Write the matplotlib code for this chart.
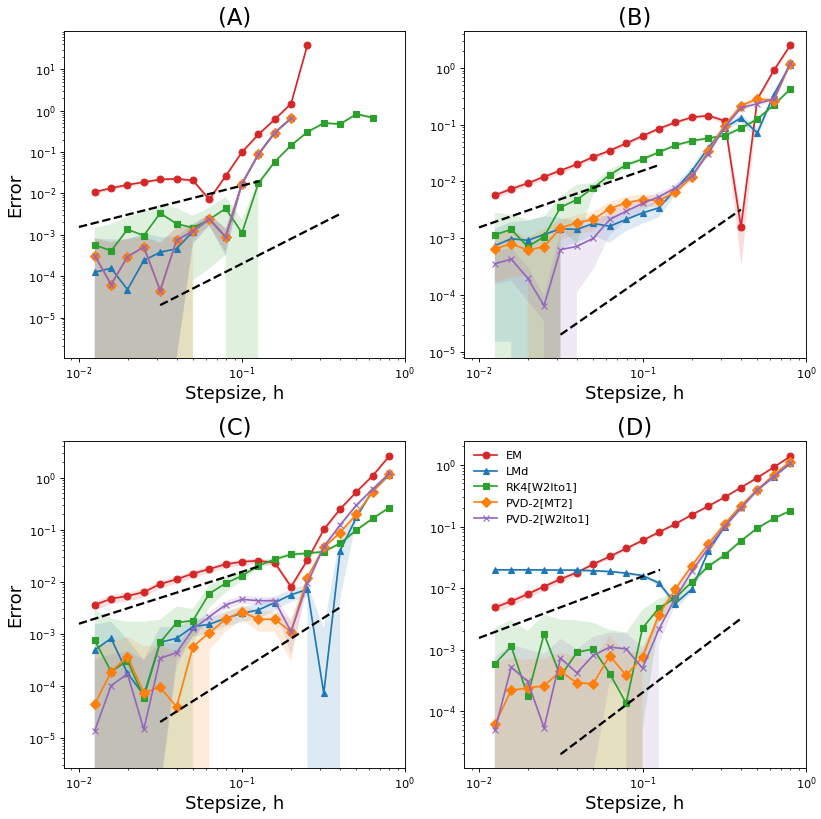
import numpy as np
import matplotlib
matplotlib.use('Agg')
import matplotlib.pyplot as plt

# step sizes h
hs = [0.0125, 0.01575, 0.01984, 0.025, 0.0315, 0.03969, 0.05, 0.063, 0.07937, 0.1,
      0.126, 0.1587, 0.2, 0.252, 0.3175, 0.4, 0.504, 0.635, 0.8]

methods = ['EM', 'LMd', 'RK4[W2Ito1]', 'PVD-2[MT2]', 'PVD-2[W2Ito1]']
colors = ['#d62728', '#1f77b4', '#2ca02c', '#ff7f0e', '#9467bd']
markers = ['o', '^', 's', 'D', 'x']
panel_titles = ['(A)', '(B)', '(C)', '(D)']

# reference slopes (order 1 and order 2)
ref1_h = [0.01, 0.128]
ref1_e = [1.55e-3, 1.98e-2]
ref2_h = [0.0315, 0.4]
ref2_e = [2.0e-5, 3.2e-3]

# ---- panel A ----
em_A = [0.0108, 0.0135, 0.0162, 0.0188, 0.0218, 0.0226, 0.0206, 0.0072, 0.0263, 0.100,
        0.267, 0.616, 1.48, 38.8]
em_A_sd = [0.0012, 0.0014, 0.0015, 0.0016, 0.0018, 0.0018, 0.0018, 0.0010, 0.0025, 0.008,
           0.02, 0.05, 0.12, 3.0]
lmd_A = [1.25e-4, 1.56e-4, 4.75e-5, 2.4e-4, 3.8e-4, 4.6e-4, 1.2e-3, 2.4e-3, 8.8e-4, 0.0171,
         0.088, 0.294, 0.653]
lmd_A_sd = [7e-4, 6.2e-4, 7.3e-4, 8.6e-4, 5e-4, 4.59e-4, 6e-4, 7e-4, 5.8e-4, 0.002,
            0.008, 0.025, 0.05]
rk4_A = [5.73e-4, 4.1e-4, 1.35e-3, 9.6e-4, 3.34e-3, 1.85e-3, 1.48e-3, 2.35e-3, 4.33e-3, 1.12e-3,
         0.0175, 0.058, 0.145, 0.305, 0.503, 0.475, 0.83, 0.677]
rk4_A_sd = [9e-4, 1.4e-3, 1.4e-3, 2.7e-3, 2.1e-3, 2.6e-3, 1.4e-3, 2.2e-3, 4e-3, 1.2e-3,
            3e-3, 5e-3, 0.012, 0.025, 0.04, 0.04, 0.07, 0.06]
mt2_A = [3.16e-4, 6.3e-5, 2.94e-4, 5.1e-4, 4.5e-5, 7.4e-4, 1.23e-3, 2.44e-3, 8.8e-4, 0.0171,
         0.088, 0.294, 0.653]
mt2_A_sd = [5e-4, 6e-4, 5e-4, 4e-4, 6e-4, 8e-4, 3.3e-4, 8e-4, 5e-4, 0.002,
            0.008, 0.025, 0.05]
w2_A = [3.16e-4, 6.3e-5, 2.94e-4, 5.1e-4, 4.5e-5, 7.4e-4, 1.23e-3, 2.44e-3, 8.8e-4, 0.0171,
        0.088, 0.294, 0.653]
w2_A_sd = [5e-4, 6e-4, 5e-4, 4e-4, 6e-4, 7.39e-4, 6e-4, 8e-4, 5e-4, 0.002,
           0.008, 0.025, 0.05]

# ---- panel B ----
em_B = [5.7e-3, 7.4e-3, 9.3e-3, 0.0121, 0.0156, 0.0201, 0.0271, 0.035, 0.047, 0.0635,
        0.0855, 0.110, 0.135, 0.145, 0.117, 1.57e-3, 0.284, 0.91, 2.5]
em_B_sd = [7e-4, 9e-4, 1e-3, 1.3e-3, 1.6e-3, 2e-3, 2.6e-3, 3e-3, 4e-3, 5e-3,
           6e-3, 8e-3, 0.01, 0.01, 0.015, 1.25e-3, 0.03, 0.07, 0.2]
lmd_B = [7.4e-4, 9.8e-4, 9.2e-4, 1.16e-3, 1.47e-3, 1.43e-3, 1.82e-3, 1.63e-3, 2.14e-3, 2.80e-3,
         3.43e-3, 7.2e-3, 0.0152, 0.039, 0.088, 0.132, 0.0717, 0.34, 1.14]
lmd_B_sd = [7.25e-4, 9.65e-4, 1.1e-3, 1.3e-3, 8e-4, 6e-4, 7e-4, 8e-4, 8e-4, 1e-3,
            1.1e-3, 1.5e-3, 3e-3, 6e-3, 0.012, 0.02, 0.015, 0.04, 0.1]
rk4_B = [1.15e-3, 1.43e-3, 7.1e-4, 1.06e-3, 3.5e-3, 4.8e-3, 7.7e-3, 0.0131, 0.0196, 0.0247,
         0.0328, 0.0435, 0.0519, 0.0578, 0.0644, 0.0867, 0.126, 0.223, 0.421]
rk4_B_sd = [1.65e-3, 1.2e-3, 1.4e-3, 1.3e-3, 2e-3, 4e-3, 1.7e-3, 3e-3, 2.5e-3, 2e-3,
            2.5e-3, 3e-3, 4e-3, 4e-3, 5e-3, 7e-3, 0.01, 0.02, 0.03]
mt2_B = [6.5e-4, 8.0e-4, 6.2e-4, 7.1e-4, 1.52e-3, 1.87e-3, 2.14e-3, 3.34e-3, 4.2e-3, 4.8e-3,
         4.6e-3, 6.5e-3, 0.0119, 0.034, 0.0966, 0.217, 0.285, 0.266, 1.19]
mt2_B_sd = [4.8e-4, 6e-4, 4e-4, 7.5e-4, 6e-4, 7e-4, 8e-4, 1e-3, 1.2e-3, 1.2e-3,
            1e-3, 1e-3, 1.5e-3, 4e-3, 0.01, 0.02, 0.025, 0.03, 0.1]
w2_B = [3.54e-4, 4.3e-4, 1.98e-4, 6.5e-5, 6.3e-4, 7.2e-4, 1.0e-3, 2.14e-3, 3.0e-3, 4.1e-3,
        5.4e-3, 7.7e-3, 0.0124, 0.031, 0.09, 0.198, 0.235, 0.284, 1.22]
w2_B_sd = [2e-4, 2.5e-4, 1.2e-4, 3e-5, 7e-4, 6.1e-4, 7.2e-4, 1e-3, 1e-3, 1e-3,
           1e-3, 1e-3, 1.5e-3, 3e-3, 0.01, 0.02, 0.02, 0.03, 0.1]

# ---- panel C ----
em_C = [3.56e-3, 4.7e-3, 5.3e-3, 6.3e-3, 9.0e-3, 0.0111, 0.0143, 0.0175, 0.0216, 0.0242,
        0.0253, 0.0232, 8.0e-3, 0.0261, 0.101, 0.25, 0.538, 1.1, 2.6]
em_C_sd = [7e-4, 9e-4, 1e-3, 1.2e-3, 1.5e-3, 1.8e-3, 2.2e-3, 2.5e-3, 3e-3, 3e-3,
           3e-3, 3e-3, 1.2e-3, 3e-3, 0.01, 0.02, 0.04, 0.08, 0.2]
lmd_C = [4.85e-4, 8.1e-4, 1.73e-4, 6.6e-5, 6.8e-4, 8.1e-4, 1.36e-3, 1.51e-3, 1.97e-3, 2.46e-3,
         2.85e-3, 3.95e-3, 5.6e-3, 7.1e-3, 7.1e-5, 0.0395, 0.173, 0.58, 1.12]
lmd_C_sd = [1e-3, 9e-4, 6e-4, 2.5e-4, 6.79e-4, 5e-4, 5e-4, 5e-4, 6e-4, 8e-4,
            9e-4, 1.2e-3, 1.5e-3, 2e-3, 1.2e-3, 0.035, 0.02, 0.05, 0.1]
rk4_C = [7.4e-4, 1.86e-4, 3.0e-4, 5.9e-5, 6.8e-4, 1.63e-3, 1.78e-3, 5.9e-3, 9.3e-3, 0.013,
         0.0203, 0.0269, 0.0335, 0.0351, 0.0378, 0.0546, 0.0985, 0.165, 0.265]
rk4_C_sd = [2.1e-3, 1.76e-3, 1.4e-3, 1.64e-3, 1.17e-3, 1.7e-3, 1.2e-3, 2.7e-3, 3.2e-3, 2.5e-3,
            2.5e-3, 2.5e-3, 3e-3, 3e-3, 3e-3, 5e-3, 8e-3, 0.012, 0.02]
mt2_C = [4.4e-5, 1.86e-4, 3.6e-4, 7.3e-5, 9.3e-5, 3.9e-5, 5.6e-4, 1.04e-3, 1.89e-3, 2.65e-3,
         1.89e-3, 1.89e-3, 1.09e-3, 0.0119, 0.0457, 0.0875, 0.2, 0.54, 1.16]
mt2_C_sd = [5e-4, 5e-4, 5e-4, 5e-4, 5e-4, 4e-4, 6e-4, 5.6e-4, 8e-4, 8e-4,
            8e-4, 8e-4, 8e-4, 2e-3, 6e-3, 0.01, 0.02, 0.04, 0.1]
w2_C = [1.36e-5, 1.0e-4, 1.68e-4, 1.44e-5, 3.36e-4, 4.3e-4, 1.21e-3, 2.12e-3, 3.56e-3, 4.57e-3,
        4.3e-3, 4.3e-3, 1.09e-3, 9.3e-3, 0.047, 0.123, 0.298, 0.605, 1.21]
w2_C_sd = [3e-4, 3e-4, 3e-4, 3e-4, 3.35e-4, 2e-4, 3e-4, 5e-4, 7e-4, 8e-4,
           8e-4, 8e-4, 7e-4, 2e-3, 6e-3, 0.015, 0.03, 0.05, 0.1]

# ---- panel D ----
em_D = [4.86e-3, 6.1e-3, 8.0e-3, 0.0106, 0.014, 0.0179, 0.0245, 0.0326, 0.044, 0.0593,
        0.081, 0.11, 0.155, 0.214, 0.299, 0.429, 0.623, 0.917, 1.38]
em_D_sd = [8e-4, 9e-4, 1.1e-3, 1.3e-3, 1.6e-3, 1.8e-3, 2e-3, 2.5e-3, 3e-3, 4e-3,
           5e-3, 6e-3, 8e-3, 0.01, 0.012, 0.015, 0.02, 0.03, 0.05]
lmd_D = [0.0198, 0.0198, 0.0198, 0.0197, 0.0196, 0.0196, 0.0191, 0.0186, 0.0175, 0.016,
         0.0121, 5.6e-3, 9.6e-3, 0.0393, 0.1, 0.211, 0.393, 0.647, 1.06]
lmd_D_sd = [7e-4, 7e-4, 7e-4, 7e-4, 7e-4, 7e-4, 7e-4, 7e-4, 8e-4, 1e-3,
            1.2e-3, 1e-3, 1e-3, 3e-3, 6e-3, 0.01, 0.015, 0.02, 0.03]
rk4_D = [5.86e-4, 1.13e-3, 1.8e-4, 1.8e-3, 3.7e-4, 9.05e-4, 1.03e-3, 4.08e-4, 1.36e-4, 2.25e-3,
         4.74e-3, 6.9e-3, 0.0125, 0.0225, 0.0343, 0.0586, 0.094, 0.135, 0.18]
rk4_D_sd = [1.66e-3, 1.93e-3, 1.82e-3, 1.9e-3, 2.7e-3, 2.1e-3, 1.7e-3, 1.7e-3, 1.76e-3, 2.2e-3,
            2e-3, 1.5e-3, 2e-3, 2.5e-3, 3e-3, 4e-3, 6e-3, 8e-3, 0.01]
mt2_D = [6.1e-5, 2.19e-4, 2.39e-4, 2.6e-4, 4.45e-4, 2.88e-4, 2.81e-4, 8.0e-4, 3.83e-4, 7.6e-4,
         3.7e-3, 9.6e-3, 0.023, 0.0517, 0.109, 0.219, 0.393, 0.689, 1.13]
mt2_D_sd = [5.6e-4, 5e-4, 4.5e-4, 4.5e-4, 4.6e-4, 4.5e-4, 4e-4, 9e-4, 5e-4, 2e-4,
            8e-4, 1.5e-3, 2.5e-3, 5e-3, 0.01, 0.02, 0.03, 0.05, 0.08]
w2_D = [4.9e-5, 5.2e-4, 3.06e-4, 5.4e-5, 7.3e-4, 4.2e-4, 8.1e-4, 1.1e-3, 1.03e-3, 5.0e-4,
        2.16e-3, 6.9e-3, 0.0186, 0.0445, 0.1, 0.198, 0.393, 0.647, 1.06]
w2_D_sd = [7e-4, 7e-4, 7e-4, 8e-4, 7.7e-4, 6e-4, 8e-4, 8e-4, 8.3e-4, 6e-4,
           9.6e-4, 1.5e-3, 2.5e-3, 5e-3, 0.01, 0.02, 0.03, 0.05, 0.08]

panels = [
    [(em_A, em_A_sd), (lmd_A, lmd_A_sd), (rk4_A, rk4_A_sd), (mt2_A, mt2_A_sd), (w2_A, w2_A_sd)],
    [(em_B, em_B_sd), (lmd_B, lmd_B_sd), (rk4_B, rk4_B_sd), (mt2_B, mt2_B_sd), (w2_B, w2_B_sd)],
    [(em_C, em_C_sd), (lmd_C, lmd_C_sd), (rk4_C, rk4_C_sd), (mt2_C, mt2_C_sd), (w2_C, w2_C_sd)],
    [(em_D, em_D_sd), (lmd_D, lmd_D_sd), (rk4_D, rk4_D_sd), (mt2_D, mt2_D_sd), (w2_D, w2_D_sd)],
]
ylims = [(1.06e-6, 85), (7.8e-6, 4.5), (2.6e-6, 5.1), (1.2e-5, 2.45)]

# axes rectangles in figure fraction (left, bottom, width, height)
rects = [(0.078, 0.563, 0.4153, 0.3993), (0.5652, 0.563, 0.4166, 0.3993),
         (0.078, 0.0623, 0.4153, 0.3993), (0.5652, 0.0623, 0.4166, 0.3993)]

DPI = 81.5
fig = plt.figure(figsize=(821 / DPI, 819 / DPI), dpi=DPI)

for p in range(4):
    ax = fig.add_axes(rects[p])
    ax.set_xscale('log')
    ax.set_yscale('log')
    for k in range(5):
        mean, sd = panels[p][k]
        mean = np.array(mean)
        sd = np.array(sd)
        x = np.array(hs[:len(mean)])
        ax.fill_between(x, mean - sd, mean + sd, color=colors[k], alpha=0.15, linewidth=0)
        ax.plot(x, mean, color=colors[k], marker=markers[k], label=methods[k])
    ax.plot(ref1_h, ref1_e, 'k--', linewidth=2)
    ax.plot(ref2_h, ref2_e, 'k--', linewidth=2)
    ax.set_xlim(0.0081, 1.0)
    ax.set_ylim(*ylims[p])
    ax.set_title(panel_titles[p], fontsize=20)
    ax.set_xlabel('Stepsize, h', fontsize=16, labelpad=2)
    if p % 2 == 0:
        ax.set_ylabel('Error', fontsize=16)
    if p == 3:
        ax.legend(loc='upper left', frameon=False, fontsize=10)

plt.savefig('out.png', dpi=DPI)
